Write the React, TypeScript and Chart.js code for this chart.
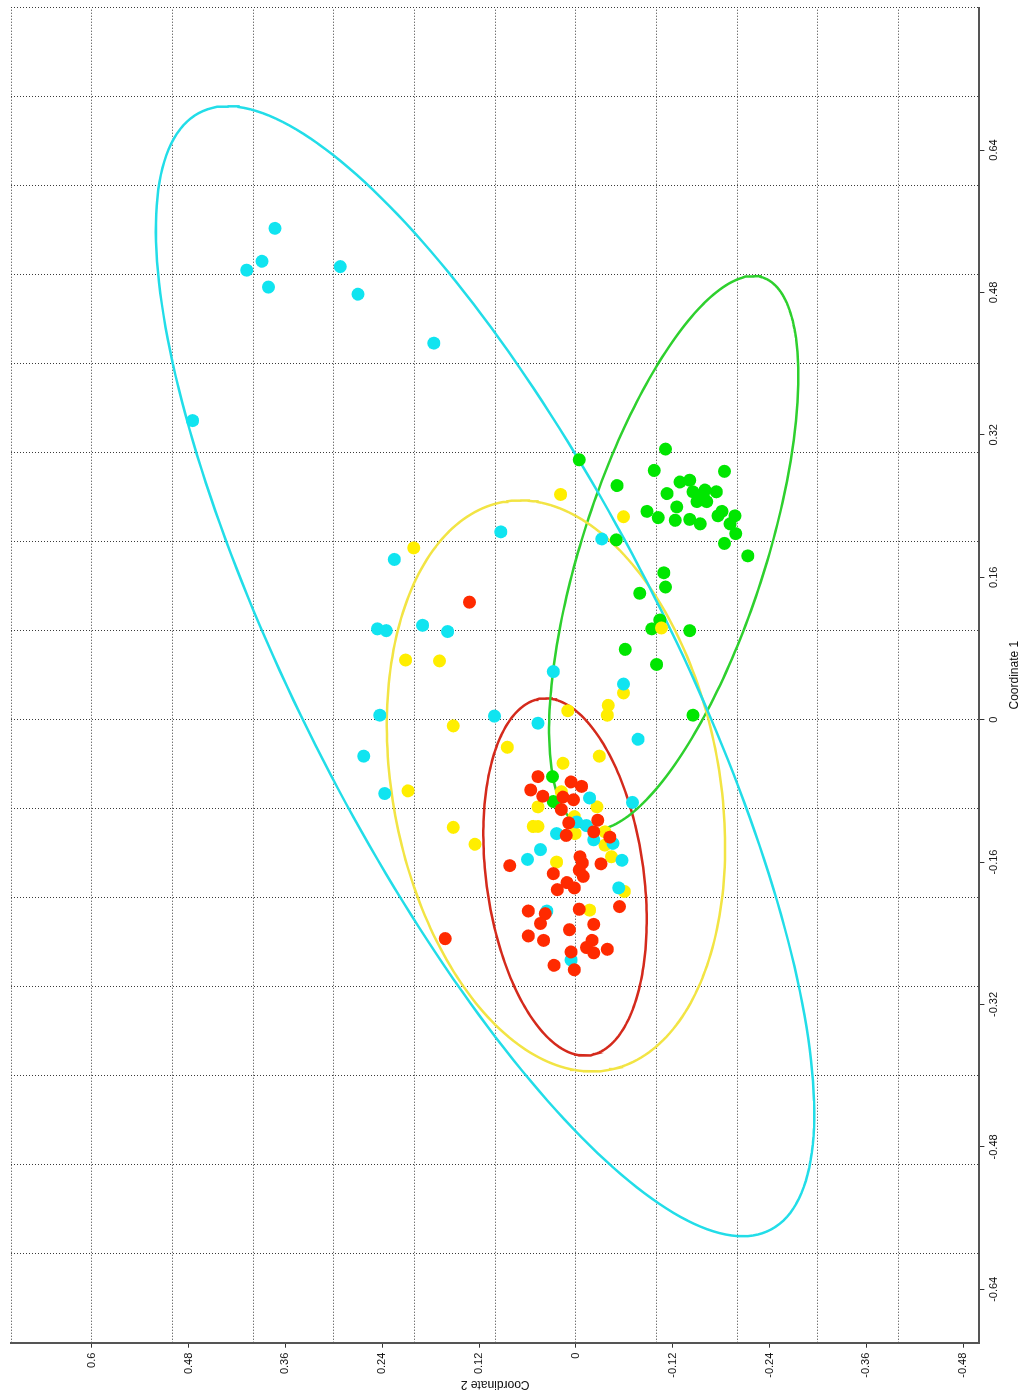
import React, { useEffect, useRef } from 'react';
import { Chart, registerables } from 'chart.js';

Chart.register(...registerables);

// Canvas is drawn in the plot's own orientation and turned a quarter turn counter-clockwise.
const CANVAS_W = 1399;
const CANVAS_H = 1028;
const FONT = '"Liberation Sans", Arial, Helvetica, sans-serif';

// Axis ranges
const coord1Range = [-0.7, 0.8];
const coord2Range = [-0.5, 0.7];

// Tick values / labels
const coord1Ticks = [-0.64, -0.48, -0.32, -0.16, 0, 0.16, 0.32, 0.48, 0.64];
const coord1TickLabels = ['-0.64', '-0.48', '-0.32', '-0.16', '0', '0.16', '0.32', '0.48', '0.64'];
const coord2Ticks = [-0.48, -0.36, -0.24, -0.12, 0, 0.12, 0.24, 0.36, 0.48, 0.6];
const coord2TickLabels = ['-0.48', '-0.36', '-0.24', '-0.12', '0', '0.12', '0.24', '0.36', '0.48', '0.6'];

// Dotted grid positions
const coord1Grid = [-0.7, -0.6, -0.5, -0.4, -0.3, -0.2, -0.1, 0, 0.1, 0.2, 0.3, 0.4, 0.5, 0.6, 0.7, 0.8];
const coord2Grid = [-0.5, -0.4, -0.3, -0.2, -0.1, 0, 0.1, 0.2, 0.3, 0.4, 0.5, 0.6, 0.7];

// Points: [Coordinate 1, Coordinate 2]
const cyanPoints = [
  [0.552, 0.373], [0.515, 0.389], [0.505, 0.408], [0.486, 0.381], [0.509, 0.292], [0.478, 0.27],
  [0.423, 0.176], [0.336, 0.475], [0.211, 0.093], [0.18, 0.225], [0.203, -0.032], [0.102, 0.246],
  [0.1, 0.235], [0.106, 0.19], [0.099, 0.159], [0.054, 0.028], [0.04, -0.059], [0.005, 0.243],
  [0.004, 0.101], [-0.004, 0.047], [-0.022, -0.077], [-0.041, 0.263], [-0.083, 0.237], [-0.088, -0.017],
  [-0.093, -0.07], [-0.128, 0.024], [-0.115, -0.001], [-0.119, -0.013], [-0.135, -0.022], [-0.139, -0.046],
  [-0.158, -0.057], [-0.157, 0.06], [-0.146, 0.044], [-0.189, -0.053], [-0.215, 0.036], [-0.27, 0.006],
];

const yellowPoints = [
  [0.253, 0.019], [0.193, 0.201], [0.228, -0.059], [0.067, 0.211], [0.066, 0.169], [0.103, -0.106],
  [0.03, -0.059], [0.016, -0.04], [0.005, -0.039], [0.01, 0.01], [-0.007, 0.152], [-0.031, 0.085],
  [-0.041, -0.029], [-0.049, 0.016], [-0.08, 0.208], [-0.098, 0.047], [-0.098, -0.026], [-0.12, 0.053],
  [-0.12, 0.047], [-0.109, 0.002], [-0.128, 0.001], [-0.141, -0.036], [-0.154, -0.044], [-0.121, 0.152],
  [-0.14, 0.125], [-0.16, 0.024], [-0.193, -0.06], [-0.214, -0.017], [-0.081, 0.018], [-0.126, -0.036],
];

const redPoints = [
  [0.132, 0.132], [-0.064, 0.047], [-0.079, 0.056], [-0.086, 0.041], [-0.07, 0.006], [-0.075, -0.007],
  [-0.087, 0.016], [-0.09, 0.003], [-0.101, 0.018], [-0.116, 0.009], [-0.13, 0.012], [-0.113, -0.027],
  [-0.126, -0.022], [-0.132, -0.042], [-0.164, 0.082], [-0.154, -0.005], [-0.161, -0.008], [-0.169, -0.004],
  [-0.162, -0.031], [-0.173, 0.028], [-0.176, -0.009], [-0.183, 0.011], [-0.189, 0.002], [-0.191, 0.023],
  [-0.21, -0.054], [-0.215, 0.059], [-0.218, 0.038], [-0.229, 0.044], [-0.213, -0.004], [-0.23, -0.022],
  [-0.236, 0.008], [-0.243, 0.059], [-0.248, 0.04], [-0.248, -0.02], [-0.256, -0.013], [-0.262, -0.022],
  [-0.258, -0.039], [-0.261, 0.006], [-0.276, 0.027], [-0.281, 0.002], [-0.246, 0.162],
];

const greenPoints = [
  [0.292, -0.004], [0.304, -0.111], [0.28, -0.097], [0.263, -0.051], [0.279, -0.184], [0.267, -0.129],
  [0.269, -0.141], [0.254, -0.113], [0.256, -0.145], [0.258, -0.16], [0.256, -0.174], [0.245, -0.15],
  [0.245, -0.162], [0.239, -0.125], [0.234, -0.088], [0.227, -0.102], [0.224, -0.123], [0.225, -0.141],
  [0.22, -0.154], [0.229, -0.176], [0.229, -0.197], [0.22, -0.191], [0.209, -0.198], [0.198, -0.184],
  [0.184, -0.213], [0.202, -0.05], [0.165, -0.109], [0.149, -0.111], [0.142, -0.079], [0.112, -0.104],
  [0.102, -0.094], [0.1, -0.141], [0.079, -0.061], [0.062, -0.1], [0.005, -0.145], [-0.064, 0.029],
  [-0.092, 0.028], [0.25, -0.158], [0.234, -0.181],
];

// 95% ellipses: [centre C1, centre C2, C1 offset of max-C1 point, C2 offset of max-C1 point, half extent in C2]
const cyanEllipse = [0.0544, 0.1126, 0.6348, 0.3191, 0.4079];
const yellowEllipse = [-0.0745, 0.0247, 0.3208, 0.0444, 0.2096];
const redEllipse = [-0.1768, 0.0135, 0.2007, 0.0242, 0.1012];
const greenEllipse = [0.1872, -0.1212, 0.3112, -0.0986, 0.1544];

function ellipseOutline(e: number[]) {
  const [c1, c2, a, b, ext] = e;
  const c = Math.sqrt(Math.max(ext * ext - b * b, 0));
  const pts: { x: number; y: number }[] = [];
  const n = 240;
  for (let i = 0; i <= n; i++) {
    const t = (2 * Math.PI * i) / n;
    pts.push({ x: c1 + a * Math.cos(t), y: c2 + b * Math.cos(t) + c * Math.sin(t) });
  }
  return pts;
}

const toXY = (arr: number[][]) => arr.map(([x, y]) => ({ x, y }));

export default function App() {
  const ref = useRef<HTMLCanvasElement>(null);

  useEffect(() => {
    document.body.style.margin = '0';
    const canvas = ref.current;
    if (!canvas) return;

    const pointSet = (label: string, data: number[][], color: string, order: number) => ({
      label,
      data: toXY(data),
      backgroundColor: color,
      borderColor: color,
      pointBackgroundColor: color,
      pointBorderColor: color,
      pointBorderWidth: 0,
      pointRadius: 6.5,
      showLine: false,
      order,
    });
    const ellipseSet = (label: string, e: number[], color: string) => ({
      label,
      data: ellipseOutline(e),
      showLine: true,
      borderColor: color,
      borderWidth: 2.5,
      pointRadius: 0,
      fill: false,
      tension: 0,
      order: 10,
    });

    const chart = new Chart(canvas, {
      type: 'scatter',
      data: {
        datasets: [
          ellipseSet('cyan ellipse', cyanEllipse, '#22DDE8'),
          ellipseSet('yellow ellipse', yellowEllipse, '#F2E444'),
          ellipseSet('green ellipse', greenEllipse, '#2ED02E'),
          ellipseSet('red ellipse', redEllipse, '#D42A1C'),
          pointSet('green', greenPoints, '#00E600', 4),
          pointSet('yellow', yellowPoints, '#FFEE00', 3),
          pointSet('cyan', cyanPoints, '#10E4F0', 2),
          pointSet('red', redPoints, '#FF2A00', 1),
        ] as any,
      },
      options: {
        responsive: false,
        animation: false,
        devicePixelRatio: 1,
        events: [],
        layout: { padding: { top: 11, right: 7.6, left: 0, bottom: 0 } },
        plugins: { legend: { display: false }, tooltip: { enabled: false } },
        scales: {
          x: {
            type: 'linear',
            position: 'bottom',
            min: coord1Range[0],
            max: coord1Range[1],
            afterBuildTicks: (s: any) => {
              s.ticks = coord1Ticks.map((v) => ({ value: v }));
            },
            afterFit: (s: any) => {
              s.height = 48.6;
              s.paddingLeft = 0;
              s.paddingRight = 0;
              s.paddingTop = 0;
              s.paddingBottom = 0;
            },
            ticks: {
              autoSkip: false,
              maxRotation: 0,
              minRotation: 0,
              padding: 3,
              color: '#111',
              font: { family: FONT, size: 11 },
              callback: (_v: any, i: number) => coord1TickLabels[i],
            },
            grid: { drawOnChartArea: false, drawTicks: true, tickLength: 5, color: '#333', lineWidth: 1 },
            border: { display: true, color: '#555', width: 2 },
            title: {
              display: true,
              text: 'Coordinate 1',
              color: '#111',
              font: { family: FONT, size: 12 },
              padding: { top: 0, bottom: 6 },
            },
          },
          y: {
            type: 'linear',
            position: 'left',
            min: coord2Range[0],
            max: coord2Range[1],
            afterBuildTicks: (s: any) => {
              s.ticks = coord2Ticks.map((v) => ({ value: v }));
            },
            afterFit: (s: any) => {
              s.width = 56.3;
              s.paddingLeft = 0;
              s.paddingRight = 0;
              s.paddingTop = 0;
              s.paddingBottom = 0;
            },
            ticks: {
              autoSkip: false,
              padding: 5,
              color: '#111',
              font: { family: FONT, size: 11 },
              callback: (_v: any, i: number) => coord2TickLabels[i],
            },
            grid: { drawOnChartArea: false, drawTicks: true, tickLength: 5, color: '#333', lineWidth: 1 },
            border: { display: true, color: '#555', width: 2 },
            title: {
              display: true,
              text: 'Coordinate 2',
              color: '#111',
              font: { family: FONT, size: 12 },
              padding: { top: 7, bottom: 0 },
            },
          },
          xg: {
            type: 'linear',
            position: 'top',
            min: coord1Range[0],
            max: coord1Range[1],
            afterBuildTicks: (s: any) => {
              s.ticks = coord1Grid.map((v) => ({ value: v }));
            },
            ticks: { display: false },
            grid: { drawTicks: false, color: '#3a3a3a', lineWidth: 1 },
            border: { display: false, dash: [1, 2] },
          },
          yg: {
            type: 'linear',
            position: 'right',
            min: coord2Range[0],
            max: coord2Range[1],
            afterBuildTicks: (s: any) => {
              s.ticks = coord2Grid.map((v) => ({ value: v }));
            },
            ticks: { display: false },
            grid: { drawTicks: false, color: '#3a3a3a', lineWidth: 1 },
            border: { display: false, dash: [1, 2] },
          },
        } as any,
      },
    });
    return () => chart.destroy();
  }, []);

  return (
    <div
      style={{
        position: 'fixed',
        left: 0,
        top: 0,
        width: CANVAS_H,
        height: CANVAS_W,
        overflow: 'hidden',
        background: '#ffffff',
      }}
    >
      <div
        style={{
          position: 'absolute',
          left: 0,
          top: 0,
          width: CANVAS_W,
          height: CANVAS_H,
          transformOrigin: '0 0',
          transform: `translateY(${CANVAS_W}px) rotate(-90deg)`,
        }}
      >
        <canvas ref={ref} width={CANVAS_W} height={CANVAS_H} style={{ display: 'block', width: CANVAS_W, height: CANVAS_H }} />
      </div>
    </div>
  );
}
